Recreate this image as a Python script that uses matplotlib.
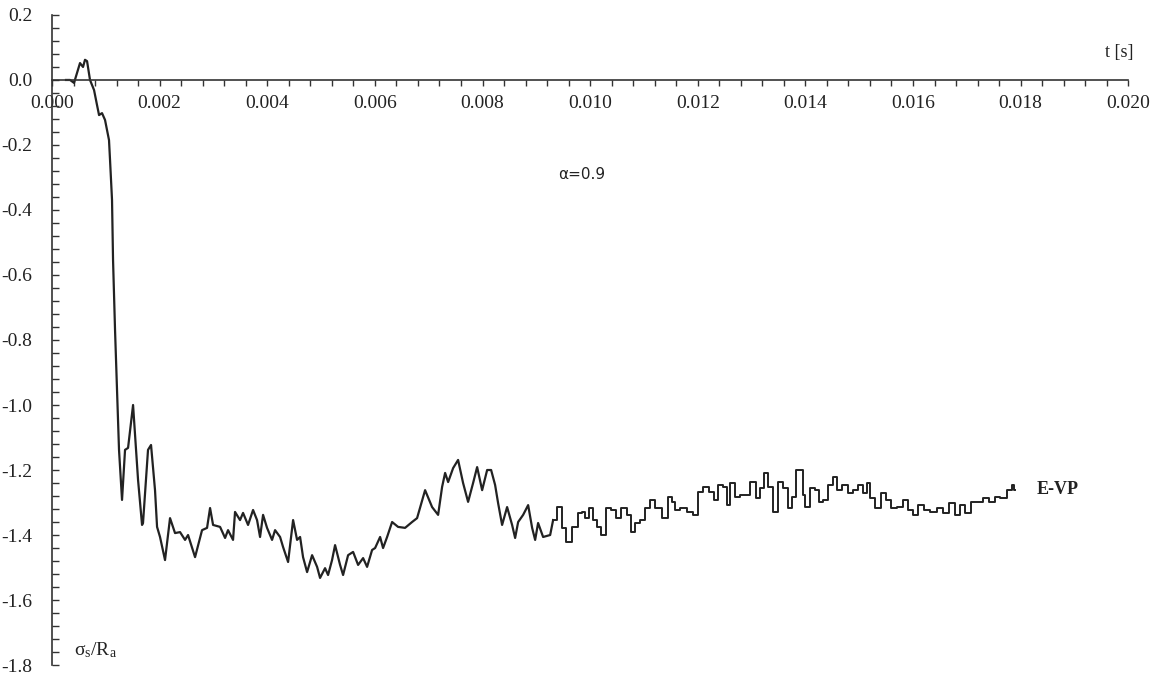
import matplotlib
matplotlib.use('Agg')
import matplotlib.pyplot as plt
from matplotlib.ticker import MultipleLocator
import numpy as np

plt.rcParams['font.family'] = ['Liberation Serif', 'DejaVu Serif']
plt.rcParams['mathtext.fontset'] = 'custom'
plt.rcParams['mathtext.rm'] = 'Liberation Serif'

# time in ms, stress ratio sigma_s/R_a
t_ms = [0.260, 0.335, 0.409, 0.520, 0.576, 0.613, 0.651, 0.706, 0.781, 0.836,
        0.874, 0.929, 0.985, 1.059, 1.078, 1.115, 1.134, 1.171, 1.208, 1.245,
        1.301, 1.357, 1.413, 1.506, 1.599, 1.673, 1.691, 1.784, 1.840, 1.914,
        1.952, 2.007, 2.100, 2.193, 2.286, 2.379, 2.472, 2.528, 2.658, 2.788,
        2.881, 2.937, 2.993, 3.123, 3.216, 3.271, 3.364, 3.401, 3.494, 3.550,
        3.643, 3.736, 3.810, 3.866, 3.922, 3.996, 4.089, 4.145, 4.238, 4.294,
        4.387, 4.480, 4.554, 4.610, 4.665, 4.740, 4.833, 4.926, 4.981, 5.074,
        5.130, 5.204, 5.260, 5.353, 5.409, 5.502, 5.595, 5.688, 5.781, 5.855,
        5.948, 6.004, 6.097, 6.152, 6.227, 6.320, 6.431, 6.561, 6.691, 6.784,
        6.933, 7.063, 7.175, 7.249, 7.305, 7.361, 7.454, 7.546, 7.639, 7.732,
        7.825, 7.900, 7.993, 8.086, 8.160, 8.234, 8.290, 8.364, 8.457, 8.550,
        8.606, 8.662, 8.755, 8.848, 8.922, 8.978, 9.033, 9.126, 9.257, 9.312]
sig = [0.000, 0.000, -0.009, 0.052, 0.040, 0.062, 0.058, 0.000, -0.031, -0.077,
       -0.108, -0.102, -0.123, -0.185, -0.246, -0.369, -0.554, -0.769, -0.954, -1.138,
       -1.292, -1.138, -1.132, -1.000, -1.231, -1.369, -1.363, -1.138, -1.123, -1.262,
       -1.375, -1.406, -1.477, -1.348, -1.394, -1.391, -1.415, -1.400, -1.468, -1.385,
       -1.378, -1.317, -1.369, -1.375, -1.409, -1.385, -1.415, -1.329, -1.354, -1.332,
       -1.369, -1.323, -1.354, -1.406, -1.338, -1.378, -1.415, -1.385, -1.406, -1.437,
       -1.483, -1.354, -1.415, -1.406, -1.468, -1.514, -1.462, -1.498, -1.532, -1.502,
       -1.523, -1.477, -1.431, -1.492, -1.523, -1.462, -1.452, -1.492, -1.471, -1.498,
       -1.446, -1.440, -1.406, -1.440, -1.406, -1.360, -1.375, -1.378, -1.360, -1.348,
       -1.262, -1.314, -1.338, -1.252, -1.209, -1.237, -1.194, -1.169, -1.240, -1.298,
       -1.240, -1.191, -1.262, -1.200, -1.200, -1.246, -1.302, -1.369, -1.314, -1.369,
       -1.409, -1.360, -1.338, -1.308, -1.378, -1.415, -1.363, -1.406, -1.400, -1.354]

# later part of the record looks sample-and-hold (stepped)
t_ms_step = [9.312, 9.442, 9.498, 9.591, 9.721, 9.814, 9.870, 9.944, 10.000, 10.093,
             10.149, 10.242, 10.335, 10.428, 10.520, 10.613, 10.743, 10.781, 10.874, 10.967,
             11.059, 11.152, 11.264, 11.394, 11.487, 11.543, 11.617, 11.729, 11.859, 11.952,
             12.045, 12.138, 12.268, 12.323, 12.416, 12.509, 12.565, 12.639, 12.732, 12.825,
             12.918, 13.030, 13.123, 13.197, 13.253, 13.346, 13.439, 13.532, 13.625, 13.717,
             13.773, 13.866, 13.941, 13.959, 14.033, 14.126, 14.219, 14.275, 14.368, 14.461,
             14.554, 14.610, 14.740, 14.833, 14.926, 15.019, 15.112, 15.167, 15.242, 15.353,
             15.446, 15.539, 15.632, 15.762, 15.855, 15.948, 16.041, 16.134, 16.264, 16.375,
             16.506, 16.599, 16.729, 16.822, 16.914, 17.026, 17.119, 17.249, 17.342, 17.472,
             17.565, 17.677, 17.807, 17.862, 17.900]
sig_step = [-1.354, -1.314, -1.378, -1.422, -1.375, -1.332, -1.329, -1.348, -1.317, -1.354,
            -1.375, -1.400, -1.317, -1.323, -1.348, -1.317, -1.338, -1.391, -1.363, -1.354,
            -1.317, -1.292, -1.317, -1.348, -1.283, -1.298, -1.323, -1.317, -1.329, -1.338,
            -1.268, -1.252, -1.268, -1.292, -1.246, -1.252, -1.308, -1.240, -1.283, -1.277,
            -1.277, -1.237, -1.286, -1.255, -1.209, -1.252, -1.329, -1.237, -1.255, -1.317,
            -1.283, -1.200, -1.200, -1.277, -1.314, -1.255, -1.262, -1.298, -1.292, -1.246,
            -1.222, -1.262, -1.246, -1.271, -1.262, -1.246, -1.271, -1.240, -1.286, -1.317,
            -1.271, -1.292, -1.317, -1.314, -1.292, -1.323, -1.338, -1.308, -1.323, -1.329,
            -1.317, -1.332, -1.302, -1.338, -1.308, -1.332, -1.298, -1.298, -1.286, -1.298,
            -1.283, -1.286, -1.262, -1.246, -1.262]

fig = plt.figure(figsize=(11.56, 6.8), dpi=100)
ax = fig.add_axes([0.045, 0.022, 0.931, 0.956])

line_col = '#222222'
ax.plot(np.array(t_ms) / 1000.0, sig, color=line_col, lw=1.6)
ax.plot(np.array(t_ms_step) / 1000.0, sig_step, color=line_col, lw=1.4, drawstyle='steps-mid')

ax.set_xlim(0, 0.020)
ax.set_ylim(-1.8, 0.2)

ax.spines['top'].set_visible(False)
ax.spines['right'].set_visible(False)
ax.spines['bottom'].set_position(('data', 0))
for s in ['left', 'bottom']:
    ax.spines[s].set_color('#333333')
    ax.spines[s].set_linewidth(1.2)

ax.xaxis.set_major_locator(MultipleLocator(0.002))
ax.xaxis.set_minor_locator(MultipleLocator(0.0004))
ax.yaxis.set_major_locator(MultipleLocator(0.2))
ax.yaxis.set_minor_locator(MultipleLocator(0.04))
ax.xaxis.set_major_formatter(plt.FuncFormatter(lambda v, p: '{:.3f}'.format(v)))
ax.yaxis.set_major_formatter(plt.FuncFormatter(lambda v, p: '{:.1f}'.format(v)))

ax.tick_params(axis='x', which='both', direction='out', length=4, width=1, colors='#333333',
               labelsize=14, pad=7, labelcolor='#222222')
ax.tick_params(axis='y', which='both', direction='in', length=5, width=1, colors='#333333',
               labelsize=14, pad=14, labelcolor='#222222')

ax.text(0.0201, 0.085, 't [s]', fontsize=13, ha='right', va='center', color='#222222')
ax.text(0.0004, -1.785, r'$\mathrm{σ_s/R_a}$', fontsize=14, ha='left', va='bottom', color='#222222')
ax.text(0.0094, -0.29, 'α=0.9', fontsize=11, family=['DejaVu Sans'], ha='left', va='center',
        color='#222222')
ax.text(0.0183, -1.26, 'E-VP', fontsize=13, fontweight='bold', ha='left', va='center',
        color='#222222')

fig.savefig('out.png', dpi=100)
